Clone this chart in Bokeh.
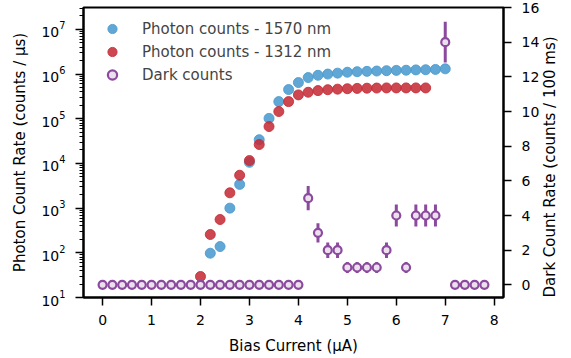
import math
from bokeh.plotting import figure
from bokeh.models import (Range1d, LinearAxis, Legend, LegendItem, ColumnDataSource,
                          SingleIntervalTicker, FixedTicker, LinearScale)
from bokeh.embed import file_html
from bokeh.resources import INLINE

# ---- data ----
bias_1570 = [2.2, 2.4, 2.6, 2.8, 3.0, 3.2, 3.4, 3.6, 3.8, 4.0, 4.2, 4.4, 4.6, 4.8,
             5.0, 5.2, 5.4, 5.6, 5.8, 6.0, 6.2, 6.4, 6.6, 6.8, 7.0]
counts_1570 = [98, 138, 1000, 3400, 10600, 34000, 102000, 242000, 450000, 645000,
               835000, 940000, 1.0e6, 1.05e6, 1.10e6, 1.13e6, 1.15e6, 1.17e6, 1.19e6,
               1.21e6, 1.22e6, 1.24e6, 1.25e6, 1.27e6, 1.31e6]

bias_1312 = [2.0, 2.2, 2.4, 2.6, 2.8, 3.0, 3.2, 3.4, 3.6, 3.8, 4.0, 4.2, 4.4, 4.6,
             4.8, 5.0, 5.2, 5.4, 5.6, 5.8, 6.0, 6.2, 6.4, 6.6]
counts_1312 = [29.5, 257, 556, 2200, 5450, 11600, 26500, 67000, 145000, 242000,
               342000, 392000, 427000, 447000, 460000, 470000, 478000, 483000,
               487000, 490000, 490000, 490000, 490000, 490000]

bias_dark = [0.0, 0.2, 0.4, 0.6, 0.8, 1.0, 1.2, 1.4, 1.6, 1.8, 2.0, 2.2, 2.4, 2.6,
             2.8, 3.0, 3.2, 3.4, 3.6, 3.8, 4.0, 4.2, 4.4, 4.6, 4.8, 5.0, 5.2, 5.4,
             5.6, 5.8, 6.0, 6.2, 6.4, 6.6, 6.8, 7.0, 7.2, 7.4, 7.6, 7.8]
dark_counts = [0, 0, 0, 0, 0, 0, 0, 0, 0, 0, 0, 0, 0, 0, 0, 0, 0, 0, 0, 0, 0,
               5, 3, 2, 2, 1, 1, 1, 1, 2, 4, 1, 4, 4, 4, 14, 0, 0, 0, 0]
dark_err = [0, 0, 0, 0, 0, 0, 0, 0, 0, 0, 0, 0, 0, 0, 0, 0, 0, 0, 0, 0, 0,
            0.70, 0.55, 0.45, 0.45, 0.32, 0.32, 0.32, 0.32, 0.45, 0.63, 0.32,
            0.63, 0.63, 0.63, 1.18, 0, 0, 0, 0]

BLUE = "#4b9bcf"
RED = "#c62d38"
PURPLE = "#8b4a9d"
FONT = "DejaVu Sans"

p = figure(width=571, height=358, y_axis_type="log",
           x_range=Range1d(-0.39, 8.19), y_range=Range1d(10, 3.09e7),
           output_backend="svg", toolbar_location=None,
           min_border_left=83, min_border_right=62, min_border_top=7, min_border_bottom=61)
p.extra_y_ranges = {"dark": Range1d(-0.73, 16.0)}
p.extra_y_scales = {"dark": LinearScale()}

p.background_fill_color = "white"
p.border_fill_color = "white"
p.outline_line_color = "black"
p.outline_line_width = 2
p.xgrid.visible = False
p.ygrid.visible = False

# photon count scatters
r_blue = p.scatter(bias_1570, counts_1570, size=10, fill_color=BLUE, line_color=BLUE,
                   fill_alpha=0.88, line_alpha=0.88, line_width=1)
r_red = p.scatter(bias_1312, counts_1312, size=10, fill_color=RED, line_color=RED,
                  fill_alpha=0.88, line_alpha=0.88, line_width=1)

# dark counts with error bars (right axis)
lo = [c - e for c, e in zip(dark_counts, dark_err)]
hi = [c + e for c, e in zip(dark_counts, dark_err)]
src = ColumnDataSource(dict(x=bias_dark, y=dark_counts, lo=lo, hi=hi))
p.segment(x0="x", y0="lo", x1="x", y1="hi", source=src, line_color=PURPLE,
          line_width=3, y_range_name="dark")
r_dark = p.scatter("x", "y", source=src, size=8, fill_color="#ece0ef",
                   line_color=PURPLE, line_width=2.2, y_range_name="dark")

# axes styling
def style_axis(ax):
    ax.axis_line_width = 2
    ax.major_tick_line_width = 1.5
    ax.minor_tick_line_width = 1
    ax.major_tick_out = 8
    ax.major_tick_in = 0
    ax.minor_tick_out = 4
    ax.minor_tick_in = 0
    ax.major_label_text_font = FONT
    ax.major_label_text_font_size = "14px"
    ax.major_label_text_color = "black"
    ax.axis_label_text_font = FONT
    ax.axis_label_text_font_size = "15px"
    ax.axis_label_text_font_style = "normal"
    ax.axis_label_text_color = "black"

xax = p.xaxis[0]
style_axis(xax)
xax.ticker = SingleIntervalTicker(interval=1, num_minor_ticks=0)
xax.minor_tick_line_color = None
xax.axis_label = "Bias Current (μA)"
xax.major_label_standoff = 9
xax.axis_label_standoff = 9

yax = p.yaxis[0]
style_axis(yax)
decades = [1, 2, 3, 4, 5, 6, 7]
yax.ticker = FixedTicker(ticks=[10.0 ** k for k in decades],
                         minor_ticks=[m * 10.0 ** k for k in decades for m in range(2, 10)])
yax.axis_label = "Photon Count Rate (counts / μs)"
yax.major_label_standoff = 10
yax.axis_label_standoff = 9

rax = LinearAxis(y_range_name="dark", axis_label="Dark Count Rate (counts / 100 ms)")
style_axis(rax)
rax.ticker = SingleIntervalTicker(interval=2, num_minor_ticks=0)
rax.minor_tick_line_color = None
rax.major_label_standoff = 10
rax.axis_label_standoff = 8
rax.axis_label_orientation = math.pi / 2
rax.axis_label_align = "start"
p.add_layout(rax, "right")

legend = Legend(items=[
    LegendItem(label="Photon counts - 1570 nm", renderers=[r_blue]),
    LegendItem(label="Photon counts - 1312 nm", renderers=[r_red]),
    LegendItem(label="Dark counts", renderers=[r_dark]),
], location="top_left")
legend.margin = 10
legend.padding = 0
legend.glyph_width = 38
legend.glyph_height = 23
legend.spacing = 0
legend.label_standoff = 11
legend.label_text_font = FONT
legend.label_text_font_size = "15px"
legend.border_line_color = None
legend.background_fill_alpha = 0
p.add_layout(legend)

open("out.html", "w").write(file_html(p, INLINE))
